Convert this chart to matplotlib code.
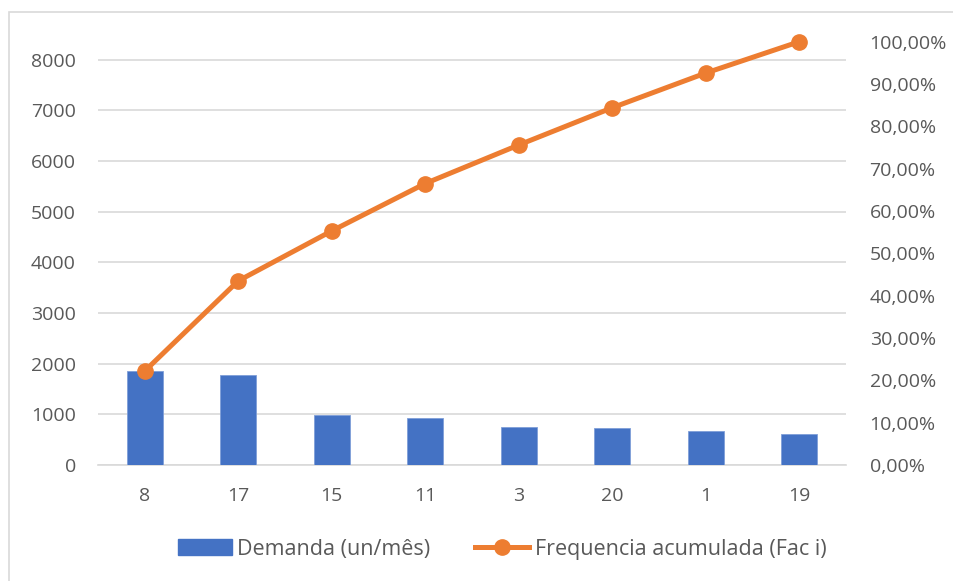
import matplotlib
matplotlib.use("Agg")
import matplotlib.pyplot as plt
from matplotlib.patches import Rectangle, Patch
from matplotlib.lines import Line2D
from matplotlib.ticker import FuncFormatter, FixedLocator

# Pareto data: items ordered by monthly demand
items = ["8", "17", "15", "11", "3", "20", "1", "19"]
demanda = [1855, 1776, 980, 928, 755, 735, 676, 616]
freq_acumulada = [22.2, 43.5, 55.3, 66.5, 75.6, 84.4, 92.6, 100.0]

left_ticks = [0, 1000, 2000, 3000, 4000, 5000, 6000, 7000, 8000]
right_ticks = [0, 10, 20, 30, 40, 50, 60, 70, 80, 90, 100]

BAR_COLOR = "#4472C4"
LINE_COLOR = "#ED7D31"
TEXT_COLOR = "#595959"
GRID_COLOR = "#D9D9D9"
FONT = ["Open Sans", "DejaVu Sans"]

plt.rcParams["font.family"] = FONT

W, H = 954, 581
fig = plt.figure(figsize=(W / 100, H / 100), dpi=100)

# outer chart frame
fig.patches.append(Rectangle((9.5 / W, -0.1), 2.0, 1.1 - 12 / H,
                             transform=fig.transFigure, fill=False,
                             edgecolor=GRID_COLOR, linewidth=1.2))

ax = fig.add_axes([98 / W, 1 - 465 / H, (846 - 98) / W, (465 - 41.7) / H])
ax2 = ax.twinx()

x = list(range(len(items)))
ax.bar(x, demanda, width=0.385, color=BAR_COLOR, edgecolor="#7F9ED8",
       linewidth=0.6, zorder=3)
ax.set_xlim(-0.5, len(items) - 0.5)
ax.set_ylim(0, 8355)
ax.yaxis.set_major_locator(FixedLocator(left_ticks))
ax.set_xticks(x)
ax.set_xticklabels(items)
ax.grid(axis="y", color=GRID_COLOR, linewidth=1.2, zorder=0)
ax.set_axisbelow(True)

ax2.plot(x, freq_acumulada, color=LINE_COLOR, linewidth=3.6,
         marker="o", markersize=11, zorder=4, clip_on=False)
ax2.set_ylim(0, 100)
ax2.yaxis.set_major_locator(FixedLocator(right_ticks))
ax2.yaxis.set_major_formatter(
    FuncFormatter(lambda v, p: f"{v:.2f}".replace(".", ",") + "%"))

for a in (ax, ax2):
    for s in a.spines.values():
        s.set_visible(False)
    a.tick_params(length=0, labelsize=14, colors=TEXT_COLOR)

ax.tick_params(axis="y", pad=16)
ax.tick_params(axis="x", pad=16)
ax2.tick_params(axis="y", pad=17)
ax.spines["bottom"].set_visible(True)
ax.spines["bottom"].set_color(GRID_COLOR)
ax.spines["bottom"].set_linewidth(1.2)

handles = [
    Patch(facecolor=BAR_COLOR, edgecolor=BAR_COLOR),
    Line2D([0], [0], color=LINE_COLOR, linewidth=3.6, marker="o",
           markersize=11),
]
labels = ["Demanda (un/mês)", "Frequencia acumulada (Fac i)"]
leg = fig.legend(handles, labels, loc="center", ncol=2,
                 bbox_to_anchor=(502 / W, 1 - 549 / H), frameon=False,
                 fontsize=15.5, handlelength=2.5, handleheight=0.7,
                 handletextpad=0.25, columnspacing=2.1)
for t in leg.get_texts():
    t.set_color(TEXT_COLOR)

fig.savefig("out.png", dpi=100)
